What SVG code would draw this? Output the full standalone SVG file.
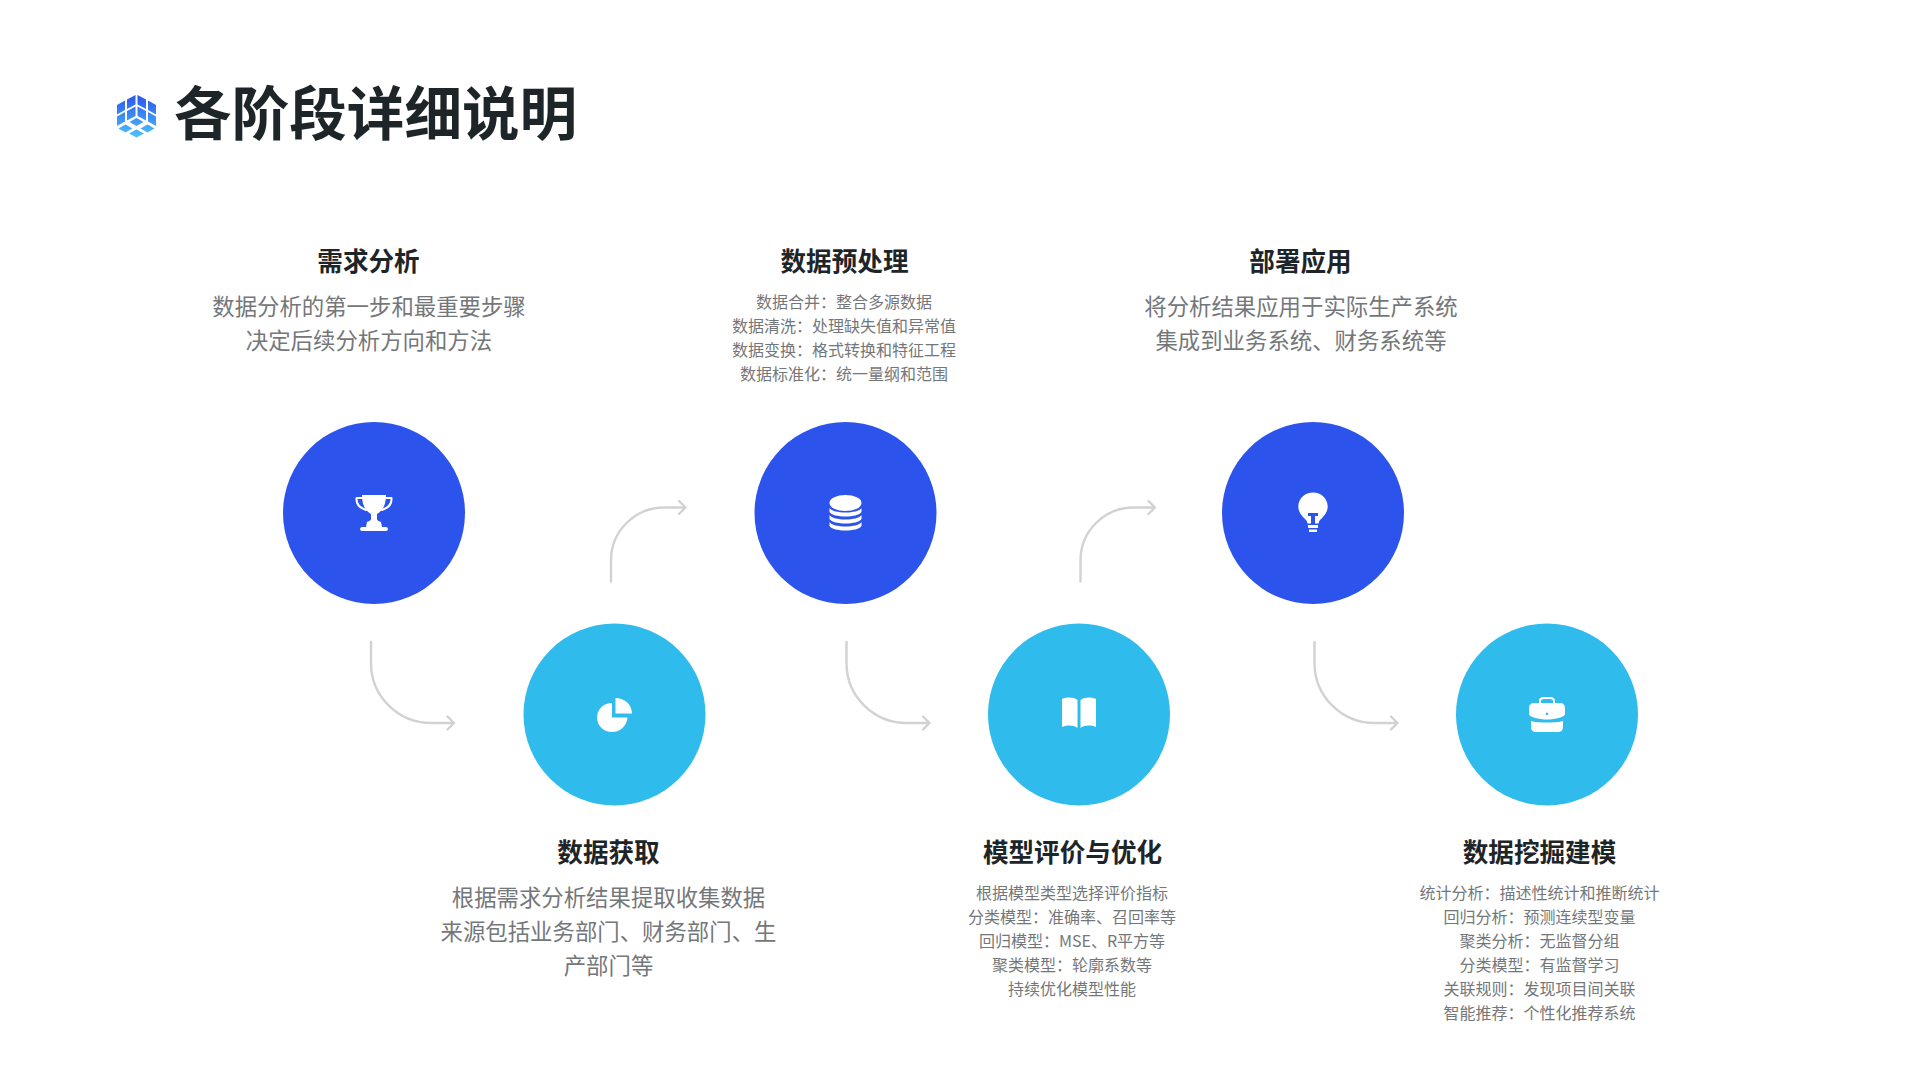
<svg xmlns="http://www.w3.org/2000/svg" width="1921" height="1080" viewBox="0 0 1921 1080">
<style>
text{font-family:"Noto Sans CJK SC","Noto Sans",sans-serif;text-anchor:middle}
.title{font-size:57.6px;font-weight:700;fill:#1e2528;text-anchor:start}
.h{font-size:25.6px;font-weight:700;fill:#1e2528}
.d{font-size:22.4px;fill:#74777a}
.s{font-size:16px;fill:#74777a}
.blue{fill:#2c54ec}
.sky{fill:#2fbcec}
.c{fill:none;stroke:#d2d2d2;stroke-width:2.4;stroke-linecap:round;stroke-linejoin:round}
.i{fill:#fff}
</style>
<defs>
<linearGradient id="g" x1="0" y1="0" x2="0" y2="1"><stop offset="0" stop-color="#2c54ec"/><stop offset="1" stop-color="#4cc4fa"/></linearGradient>
<g id="down"><path class="c" d="M0 0V21A60 60 0 0 0 60 81H83M76.500 74.500L83 81L76.500 87.500"/></g>
<g id="up"><path class="c" d="M0 0V-21A53 53 0 0 1 53-74H74.500M68-80.500L74.500-74L68-67.500"/></g>
</defs>
<rect width="1921" height="1080" fill="#fff"/>
<g id="logo"><path fill="url(#g)" d="M117 105L125 100.500V110L117 114.500ZM127 99.500L135.500 95V104.500L127 109ZM117 116.500L125 112V121.500L117 126ZM127 111L135.500 106.500V116L127 120.500ZM156 105L148 100.500V110L156 114.500ZM146 99.500L137.500 95V104.500L146 109ZM156 116.500L148 112V121.500L156 126ZM146 111L137.500 106.500V116L146 120.500ZM136.500 118L143.500 122L136.500 126L129.500 122ZM125.500 124.500L132.500 128.500L125.500 132.500L118.500 128.500ZM147.500 124.500L154.500 128.500L147.500 132.500L140.500 128.500ZM136.500 129.500L144 133.500L136.500 137.500L129 133.500Z"/></g>
<text class="title" x="174" y="135">各阶段详细说明</text>
<g id="connectors">
<use href="#down" x="371" y="642"/>
<use href="#up" x="611" y="581.500"/>
<use href="#down" x="846.500" y="642"/>
<use href="#up" x="1080.500" y="581.500"/>
<use href="#down" x="1314.500" y="642"/>
</g>
<g id="node1"><circle class="blue" cx="374" cy="513" r="91"/>
<path class="c" style="stroke:#fff;stroke-width:2" d="M363 498H356.500C356 504 360 508 366 510M385 498H391.500C392 504 388 508 382 510"/>
<path class="i" d="M362 495H386C386 503 384 510 377 514V519C377 521 380 521 381 522L382 527H386C388.500 527 388.500 531 386 531H362C359.500 531 359.500 527 362 527H366L367 522C368 521 371 521 371 519V514C364 510 362 503 362 495Z"/>
<text class="h" x="368.500" y="271">需求分析</text>
<text class="d" x="369" y="314.500">数据分析的第一步和最重要步骤</text>
<text class="d" x="369" y="349">决定后续分析方向和方法</text></g>
<g id="node2"><circle class="sky" cx="614.500" cy="714.500" r="91"/>
<path class="i" d="M612 703V717.500H627.500C627 726 620 732 612 732C603 732 597 725 597 717.500C597 709 604 703 612 703ZM615.500 698C625 698 632 705 632 713.500H615.500Z"/>
<text class="h" x="608.500" y="862">数据获取</text>
<text class="d" x="608.500" y="906">根据需求分析结果提取收集数据</text>
<text class="d" x="608.500" y="940">来源包括业务部门、财务部门、生</text>
<text class="d" x="608.500" y="973.500">产部门等</text></g>
<g id="node3"><circle class="blue" cx="845.500" cy="513" r="91"/>
<g class="i"><ellipse cx="845.500" cy="503" rx="16" ry="8"/><path d="M829.500 508C833 514 858 514 861.500 508V512C858 518 833 518 829.500 512ZM829.500 515C833 521 858 521 861.500 515V519C858 525 833 525 829.500 519ZM829.500 522C833 528 858 528 861.500 522V526C858 532 833 532 829.500 526Z"/></g>
<text class="h" x="844.500" y="271">数据预处理</text>
<text class="s" x="844" y="308">数据合并：整合多源数据</text>
<text class="s" x="844" y="332">数据清洗：处理缺失值和异常值</text>
<text class="s" x="844" y="356">数据变换：格式转换和特征工程</text>
<text class="s" x="844" y="380">数据标准化：统一量纲和范围</text></g>
<g id="node4"><circle class="sky" cx="1079" cy="714.500" r="91"/>
<path class="i" d="M1062 699C1068 697 1073 697 1077.500 700V728C1073 725 1068 725 1062 727ZM1080.500 700C1085 697 1090 697 1096 699V727C1090 725 1085 725 1080.500 728Z"/>
<text class="h" x="1072.500" y="862">模型评价与优化</text>
<text class="s" x="1072" y="899">根据模型类型选择评价指标</text>
<text class="s" x="1072" y="923">分类模型：准确率、召回率等</text>
<text class="s" x="1072" y="947">回归模型：MSE、R平方等</text>
<text class="s" x="1072" y="971">聚类模型：轮廓系数等</text>
<text class="s" x="1072" y="995">持续优化模型性能</text></g>
<g id="node5"><circle class="blue" cx="1313" cy="513" r="91"/>
<path class="i" d="M1313 492.500C1321 492.500 1327.700 498.500 1327.700 506.500C1327.700 511 1325.500 514 1323 517C1320.500 519.500 1319 520.500 1318.500 523.500H1315V516H1318V513H1308V516H1311V523.500H1307.500C1307 520.500 1305.500 519.500 1303 517C1300.500 514 1298.300 511 1298.300 506.500C1298.300 498.500 1305 492.500 1313 492.500ZM1308 525H1318V528H1308ZM1309 529.500H1317V532H1309Z"/>
<text class="h" x="1300.500" y="271">部署应用</text>
<text class="d" x="1301" y="314.500">将分析结果应用于实际生产系统</text>
<text class="d" x="1301" y="349">集成到业务系统、财务系统等</text></g>
<g id="node6"><circle class="sky" cx="1547" cy="714.500" r="91"/>
<path class="i" fill-rule="evenodd" d="M1539 703V701C1539 698 1541 697 1544 697H1550C1553 697 1555 698 1555 701V703H1560C1563 703 1565 705 1565 708V714C1565 717 1555 719.500 1547 719.500C1539 719.500 1529 717 1529 714V708C1529 705 1531 703 1534 703ZM1541 703H1553V701C1553 700 1552 699 1550 699H1544C1542 699 1541 700 1541 701ZM1547 712.500a1.300 1.300 0 1 0 .01 0ZM1531 721C1537 723 1557 723 1563 721V727C1563 730 1561 732 1558 732H1536C1533 732 1531 730 1531 727Z"/>
<text class="h" x="1539.500" y="862">数据挖掘建模</text>
<text class="s" x="1539.500" y="899">统计分析：描述性统计和推断统计</text>
<text class="s" x="1539.500" y="923">回归分析：预测连续型变量</text>
<text class="s" x="1539.500" y="947">聚类分析：无监督分组</text>
<text class="s" x="1539.500" y="971">分类模型：有监督学习</text>
<text class="s" x="1539.500" y="995">关联规则：发现项目间关联</text>
<text class="s" x="1539.500" y="1019">智能推荐：个性化推荐系统</text></g>
</svg>
